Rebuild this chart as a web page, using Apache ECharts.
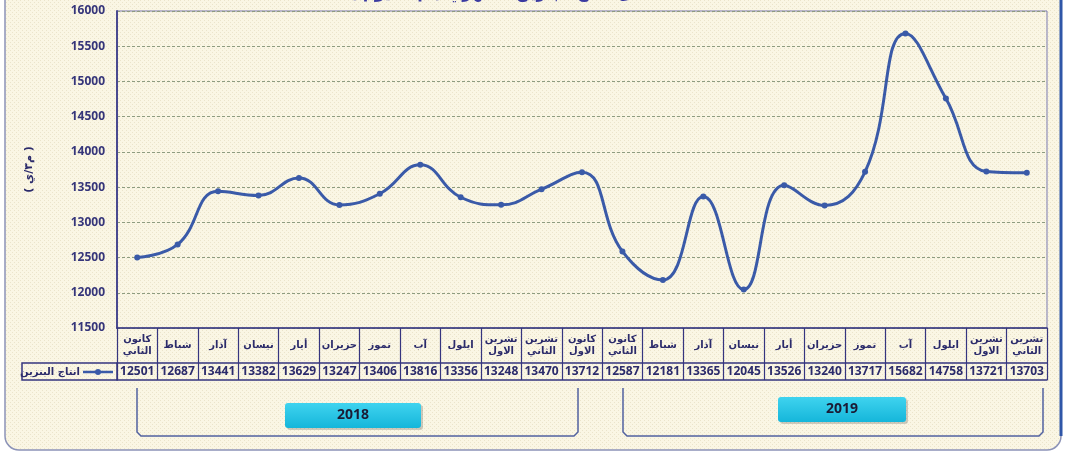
<!DOCTYPE html>
<html>
<head>
<meta charset="utf-8">
<script src="https://cdn.jsdelivr.net/npm/echarts@6/dist/echarts.min.js"></script>
<style>
  html, body { margin: 0; padding: 0; background: #fff; }
  #chart { width: 1078px; height: 452px; }
</style>
</head>
<body>
<div id="chart"></div>
<script>
// months (2018: Jan..Dec, 2019: Jan..Nov)
const months = [
  'كانون\nالثاني', 'شباط', 'آذار', 'نيسان', 'أيار', 'حزيران', 'تموز', 'آب', 'ايلول', 'تشرين\nالاول', 'تشرين\nالثاني', 'كانون\nالاول',
  'كانون\nالثاني', 'شباط', 'آذار', 'نيسان', 'أيار', 'حزيران', 'تموز', 'آب', 'ايلول', 'تشرين\nالاول', 'تشرين\nالثاني'
]
const petrol = [
  12501, 12687, 13441, 13382, 13629, 13247, 13406, 13816, 13356, 13248, 13470, 13712,
  12587, 12181, 13365, 12045, 13526, 13240, 13717, 15682, 14758, 13721, 13703
]
const seriesName = 'انتاج البنزين'
const yearLabels = ['2018', '2019']

const navy = '#35357f'
const ink = '#2b2b6b'
const lineColor = '#3a5aa8'
const numFont = '"Liberation Sans Narrow", "Open Sans"'

// dotted paper texture
let tex = document.createElement('canvas')
tex.width = 4
tex.height = 4
let ctx = tex.getContext('2d')
ctx.fillStyle = '#faf6e4'
ctx.fillRect(0, 0, 4, 4)
ctx.fillStyle = '#ebe4cb'
ctx.fillRect(0, 0, 1, 1)
ctx.fillRect(2, 2, 1, 1)

let chart = echarts.init(document.getElementById('chart'))

function bracket(x1, x2, yTop, yBot) {
  return {
    type: 'polyline', silent: true,
    shape: { points: [[x1, yTop], [x1, yBot - 4], [x1 + 4, yBot], [x2 - 4, yBot], [x2, yBot - 4], [x2, yTop]] },
    style: { stroke: '#5262a0', lineWidth: 1.5, fill: null }
  }
}
function yearBox(x, y, w, h, txt) {
  return {
    type: 'group', silent: true,
    children: [
      { type: 'rect', shape: { x: x + 2, y: y + 2, width: w, height: h, r: 3 }, style: { fill: 'rgba(0,0,0,0.18)' } },
      { type: 'rect', shape: { x: x, y: y, width: w, height: h, r: 3 },
        style: { fill: new echarts.graphic.LinearGradient(0, 0, 0, 1, [{ offset: 0, color: '#3fd3ef' }, { offset: 1, color: '#15b6da' }]) } },
      { type: 'text', x: x + w / 2, y: y + h / 2,
        style: { text: txt, fill: '#1b1b35', font: 'bold 14px ' + numFont, align: 'center', verticalAlign: 'middle' } }
    ]
  }
}

chart.setOption({
  animation: false,
  backgroundColor: '#fff',
  title: {
    text: 'معدل انتاج البنزين الشهري ( م٣ / يوم )',
    left: 500, top: -19, textAlign: 'center',
    textStyle: { color: '#3a3aa0', fontSize: 16, fontWeight: 'bold', fontFamily: 'DejaVu Sans' }
  },
  graphic: [
    { type: 'rect', silent: true, z: -10,
      shape: { x: 5, y: -30, width: 1056, height: 480, r: 14 },
      style: { fill: { image: tex, repeat: 'repeat' }, stroke: '#8c93b8', lineWidth: 1.5 } },
    { type: 'line', silent: true, z: -9,
      shape: { x1: 1061, y1: -10, x2: 1061, y2: 436 },
      style: { stroke: '#2f56a8', lineWidth: 3 } },
    // legend cell of the data table
    { type: 'rect', silent: true,
      shape: { x: 22, y: 363, width: 95, height: 17 },
      style: { fill: null, stroke: navy, lineWidth: 1.5 } },
    { type: 'text', silent: true, x: 80, y: 372,
      style: { text: seriesName, fill: ink, font: 'bold 10px "DejaVu Sans"', align: 'right', verticalAlign: 'middle' } },
    { type: 'line', silent: true, shape: { x1: 83, y1: 372, x2: 113, y2: 372 },
      style: { stroke: lineColor, lineWidth: 2.5 } },
    { type: 'circle', silent: true, shape: { cx: 98, cy: 372, r: 3 },
      style: { fill: lineColor } },
    bracket(137, 578, 388, 436),
    bracket(623, 1043, 388, 436),
    yearBox(285, 403, 136, 25, yearLabels[0]),
    yearBox(778, 397, 128, 25, yearLabels[1])
  ],
  grid: {
    left: 117, right: 31, top: 11, bottom: 124,
    show: true, borderColor: '#7a7ab0', borderWidth: 1
  },
  xAxis: [
    {
      type: 'category', data: months, position: 'bottom',
      axisLine: { show: true, lineStyle: { color: navy, width: 1.5 } },
      axisTick: { show: true, interval: 0, length: 52, lineStyle: { color: navy, width: 1.2 } },
      axisLabel: {
        interval: 0, margin: 17, verticalAlign: 'middle',
        color: ink, fontSize: 10, lineHeight: 12, fontWeight: 'bold', fontFamily: 'DejaVu Sans'
      }
    },
    {
      type: 'category', data: petrol.map(String), position: 'bottom', offset: 35,
      axisLine: { show: true, lineStyle: { color: navy, width: 1.5 } },
      axisTick: { show: false },
      axisLabel: {
        interval: 0, margin: 9, verticalAlign: 'middle',
        color: ink, fontSize: 12, fontWeight: 'bold', fontFamily: numFont
      }
    },
    {
      type: 'category', data: months, position: 'bottom', offset: 52,
      axisLine: { show: true, lineStyle: { color: navy, width: 1.5 } },
      axisTick: { show: false },
      axisLabel: { show: false }
    }
  ],
  yAxis: {
    type: 'value', min: 11500, max: 16000, interval: 500,
    name: '( م٣/ي )', nameLocation: 'middle', nameGap: 82, nameRotate: 90,
    nameTextStyle: { color: ink, fontSize: 11, fontWeight: 'bold', fontFamily: 'DejaVu Sans' },
    axisLine: { show: true, lineStyle: { color: '#4a4a90', width: 2 } },
    axisTick: { show: false },
    axisLabel: {
      color: '#35357a', fontSize: 12, fontWeight: 'bold', margin: 12, fontFamily: numFont,
      formatter: v => String(v)
    },
    splitLine: { show: true, lineStyle: { color: '#8e9c80', type: [3, 2], width: 1 } }
  },
  series: [{
    name: seriesName,
    type: 'line',
    data: petrol,
    smooth: 0.45,
    symbol: 'circle',
    symbolSize: 6,
    lineStyle: { color: lineColor, width: 3 },
    itemStyle: { color: lineColor }
  }]
})
</script>
</body>
</html>
